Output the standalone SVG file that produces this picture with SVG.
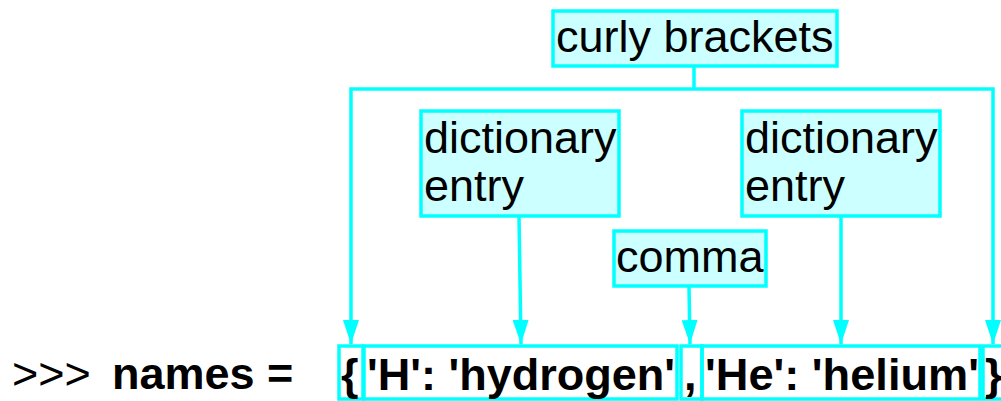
<svg xmlns="http://www.w3.org/2000/svg" width="1001" height="401" viewBox="0 0 1001 401">
<defs>
<marker id="arr" markerUnits="userSpaceOnUse" markerWidth="24" markerHeight="16" viewBox="0 0 24 16" refX="24" refY="8" orient="auto">
<path d="M0,0 L24,8 L0,16 z" fill="#00ffff"/>
</marker>
<style>
.lbl{fill:#ccffff;stroke:#00ffff;stroke-width:3.5}
.box{fill:none;stroke:#00ffff;stroke-width:3.5}
.t{font-family:"Liberation Sans",Arial,sans-serif;font-size:45px;fill:#000}
.b{font-family:"Liberation Sans",Arial,sans-serif;font-size:45px;font-weight:bold;fill:#000}
.c{fill:none;stroke:#00ffff;stroke-width:3.5}
</style>
</defs>
<rect width="1001" height="401" fill="#fff"/>
<g id="connectors">
<path class="c" d="M694,66 V89"/>
<path class="c" d="M694,89 H351 V344" marker-end="url(#arr)"/>
<path class="c" d="M694,89 H993 V344" marker-end="url(#arr)"/>
<path class="c" d="M519,216 L521,344" marker-end="url(#arr)"/>
<path class="c" d="M689,287 L690,344" marker-end="url(#arr)"/>
<path class="c" d="M841,216 V344" marker-end="url(#arr)"/>
</g>
<g id="prompt">
<text class="t" x="12" y="389">&gt;&gt;&gt;</text>
<text class="b" x="112" y="389">names =</text>
</g>
<g id="curly-brackets">
<rect class="lbl" x="553" y="11" width="284" height="55"/>
<text class="t" x="556" y="52">curly brackets</text>
</g>
<g id="dict-entry-1">
<rect class="lbl" x="421" y="111" width="198" height="105"/>
<text class="t" x="424" y="153">dictionary</text>
<text class="t" x="424" y="201">entry</text>
</g>
<g id="dict-entry-2">
<rect class="lbl" x="742" y="111" width="198" height="105"/>
<text class="t" x="745" y="153">dictionary</text>
<text class="t" x="745" y="201">entry</text>
</g>
<g id="comma">
<rect class="lbl" x="614" y="231" width="152" height="55"/>
<text class="t" x="616" y="272">comma</text>
</g>
<g id="open-brace">
<rect class="box" x="339" y="346" width="24" height="53"/>
<text class="b" x="341" y="390">{</text>
</g>
<g id="entry-h">
<rect class="box" x="364" y="346" width="313" height="53"/>
<text class="b" x="367" y="390" textLength="308" lengthAdjust="spacingAndGlyphs">'H': 'hydrogen'</text>
</g>
<g id="comma-char">
<rect class="box" x="681" y="346" width="21" height="53"/>
<text class="b" x="684" y="390">,</text>
</g>
<g id="entry-he">
<rect class="box" x="702" y="346" width="278" height="53"/>
<text class="b" x="705" y="390" textLength="274" lengthAdjust="spacingAndGlyphs">'He': 'helium'</text>
</g>
<g id="close-brace">
<rect class="box" x="983" y="346" width="22" height="53"/>
<text class="b" x="985" y="390">}</text>
</g>
</svg>
